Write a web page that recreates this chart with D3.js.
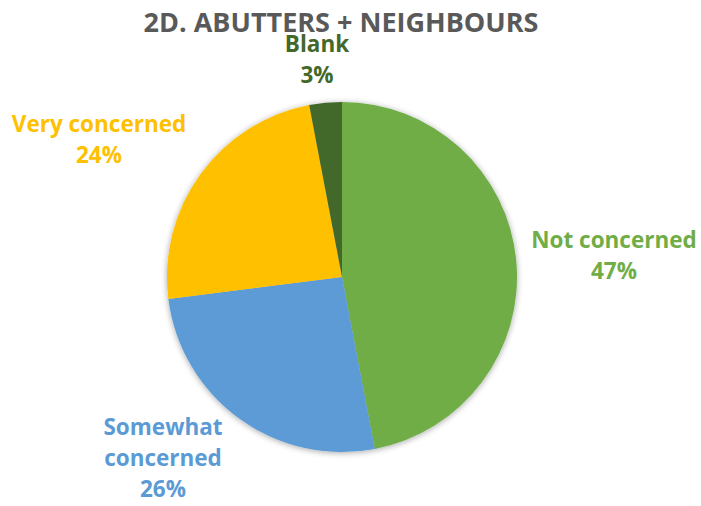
<!DOCTYPE html>
<html>
<head>
<meta charset="utf-8">
<script src="https://cdn.jsdelivr.net/npm/d3@7"></script>
<style>
  body { margin: 0; background: #fff; }
  text { font-family: "Open Sans", sans-serif; font-weight: bold; }
</style>
</head>
<body>
<div id="chart"></div>
<script>
// chart data
var categories = ["Not concerned", "Somewhat concerned", "Very concerned", "Blank"];
var values = [47, 26, 24, 3];
var pctLabels = ["47%", "26%", "24%", "3%"];
var title = "2D. ABUTTERS + NEIGHBOURS";

var width = 701, height = 506;
var cx = 342, cy = 277, radius = 175;
var colors = ["#70AD47", "#5B9BD5", "#FFC000", "#43682B"];
var labelColors = ["#70AD47", "#5B9BD5", "#FFC000", "#43682B"];

// where each label block sits (centre x, first baseline)
var labelLayout = [
  {x: 614, y: 248, lines: ["Not concerned"]},
  {x: 163, y: 435, lines: ["Somewhat", "concerned"]},
  {x: 99,  y: 132, lines: ["Very concerned"]},
  {x: 317, y: 52,  lines: ["Blank"]}
];
var lineGap = 31;

var svg = d3.select('#chart')
    .append('svg')
    .attr('width', width)
    .attr('height', height);

// soft shadow round the pie
var defs = svg.append('defs');
var f = defs.append('filter').attr('id', 'shadow')
    .attr('x', '-20%').attr('y', '-20%').attr('width', '140%').attr('height', '140%');
f.append('feGaussianBlur').attr('in', 'SourceAlpha').attr('stdDeviation', 3);
f.append('feOffset').attr('dx', 0).attr('dy', 1).attr('result', 'blur');
f.append('feComponentTransfer').append('feFuncA').attr('type', 'linear').attr('slope', 0.35);
var m = f.append('feMerge');
m.append('feMergeNode');
m.append('feMergeNode').attr('in', 'SourceGraphic');

svg.append('text')
    .attr('x', 341)
    .attr('y', 32)
    .attr('text-anchor', 'middle')
    .attr('fill', '#595959')
    .style('font-size', '27px')
    .text(title);

var pie = d3.pie().sort(null).value(function(d){ return d; });
var arc = d3.arc().innerRadius(0).outerRadius(radius);

var g = svg.append('g')
    .attr('transform', 'translate(' + cx + ',' + cy + ')')
    .attr('filter', 'url(#shadow)');

g.selectAll('path')
    .data(pie(values))
    .enter()
    .append('path')
    .attr('d', arc)
    .attr('fill', function(d, i){ return colors[i]; });

// labels
categories.forEach(function(c, i){
    var lay = labelLayout[i];
    var t = svg.append('text')
        .attr('text-anchor', 'middle')
        .attr('fill', labelColors[i])
        .style('font-size', '22.5px');
    var lines = lay.lines.concat([pctLabels[i]]);
    lines.forEach(function(l, k){
        t.append('tspan')
            .attr('x', lay.x)
            .attr('y', lay.y + k * lineGap)
            .text(l);
    });
});
</script>
</body>
</html>
